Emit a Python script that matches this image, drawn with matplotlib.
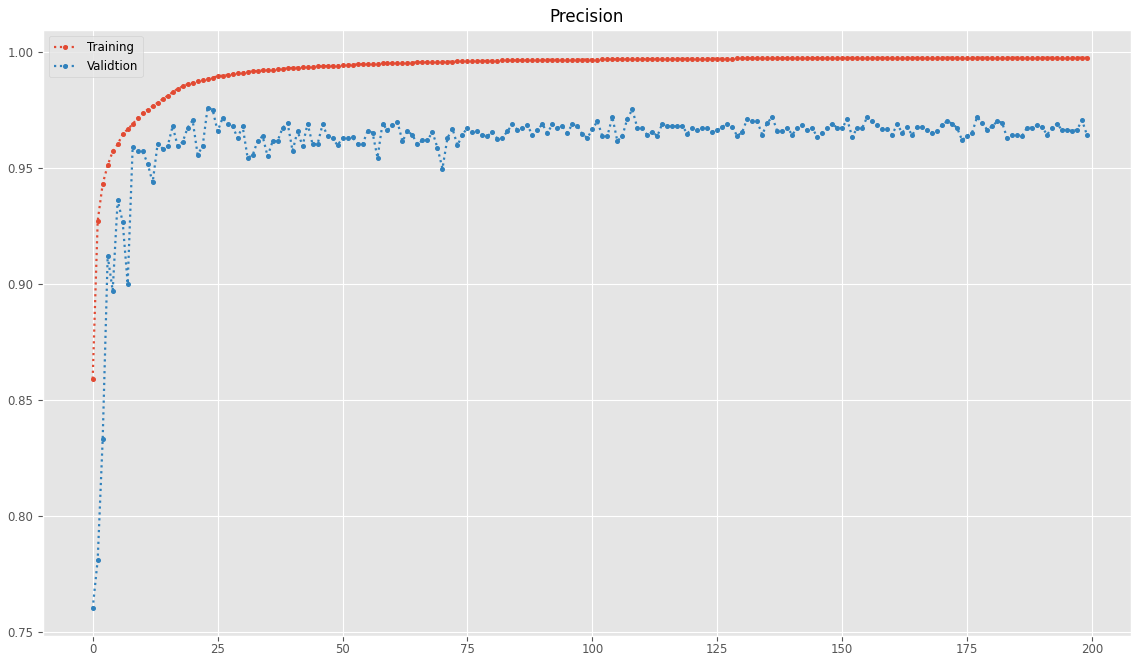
import matplotlib
matplotlib.use("Agg")
import matplotlib.pyplot as plt
import numpy as np

# values, one per epoch
train_precision = [
    0.8590, 0.9270, 0.9430, 0.9510, 0.9570, 0.9600, 0.9645, 0.9665, 0.9688, 0.9713,
    0.9735, 0.9750, 0.9765, 0.9780, 0.9795, 0.9810, 0.9825, 0.9840, 0.9850, 0.9860,
    0.9866, 0.9872, 0.9876, 0.9882, 0.9888, 0.9894, 0.9897, 0.9900, 0.9904, 0.9908,
    0.9910, 0.9913, 0.9915, 0.9917, 0.9919, 0.9920, 0.9922, 0.9924, 0.9926, 0.9928,
    0.9930, 0.9931, 0.9932, 0.9933, 0.9935, 0.9936, 0.9937, 0.9938, 0.9939, 0.9940,
    0.9942, 0.9943, 0.9944, 0.9945, 0.9946, 0.9946, 0.9947, 0.9948, 0.9949, 0.9950,
    0.9950, 0.9951, 0.9952, 0.9952, 0.9953, 0.9954, 0.9954, 0.9955, 0.9955, 0.9956,
    0.9956, 0.9957, 0.9957, 0.9958, 0.9958, 0.9959, 0.9959, 0.9960, 0.9960, 0.9960,
    0.9961, 0.9961, 0.9962, 0.9962, 0.9962, 0.9963, 0.9963, 0.9963, 0.9964, 0.9964,
    0.9964, 0.9965, 0.9965, 0.9965, 0.9965, 0.9966, 0.9966, 0.9966, 0.9966, 0.9966,
    0.9966, 0.9966, 0.9967, 0.9967, 0.9967, 0.9967, 0.9967, 0.9968, 0.9968, 0.9968,
    0.9968, 0.9968, 0.9968, 0.9969, 0.9969, 0.9969, 0.9969, 0.9969, 0.9969, 0.9969,
    0.9970, 0.9970, 0.9970, 0.9970, 0.9970, 0.9970, 0.9970, 0.9970, 0.9970, 0.9971,
    0.9971, 0.9971, 0.9971, 0.9971, 0.9971, 0.9971, 0.9971, 0.9971, 0.9971, 0.9972,
    0.9972, 0.9972, 0.9972, 0.9972, 0.9972, 0.9972, 0.9972, 0.9972, 0.9972, 0.9972,
    0.9973, 0.9973, 0.9973, 0.9973, 0.9973, 0.9973, 0.9973, 0.9973, 0.9973, 0.9973,
    0.9973, 0.9973, 0.9973, 0.9973, 0.9973, 0.9973, 0.9973, 0.9973, 0.9974, 0.9974,
    0.9974, 0.9974, 0.9974, 0.9974, 0.9974, 0.9974, 0.9974, 0.9974, 0.9974, 0.9974,
    0.9974, 0.9974, 0.9974, 0.9974, 0.9974, 0.9974, 0.9974, 0.9974, 0.9974, 0.9974,
    0.9974, 0.9974, 0.9974, 0.9974, 0.9974, 0.9974, 0.9974, 0.9974, 0.9974, 0.9974,
]

val_precision = [
    0.7600, 0.7810, 0.8330, 0.9120, 0.8970, 0.9360, 0.9266, 0.9000, 0.9590, 0.9570,
    0.9570, 0.9517, 0.9436, 0.9604, 0.9582, 0.9592, 0.9679, 0.9593, 0.9610, 0.9672,
    0.9704, 0.9556, 0.9592, 0.9759, 0.9750, 0.9657, 0.9714, 0.9687, 0.9678, 0.9628,
    0.9679, 0.9543, 0.9553, 0.9615, 0.9636, 0.9549, 0.9613, 0.9615, 0.9671, 0.9693,
    0.9572, 0.9658, 0.9592, 0.9690, 0.9601, 0.9601, 0.9686, 0.9636, 0.9628, 0.9596,
    0.9628, 0.9628, 0.9630, 0.9604, 0.9600, 0.9657, 0.9651, 0.9543, 0.9690, 0.9661,
    0.9683, 0.9697, 0.9613, 0.9658, 0.9640, 0.9600, 0.9618, 0.9618, 0.9654, 0.9585,
    0.9496, 0.9628, 0.9668, 0.9596, 0.9642, 0.9672, 0.9652, 0.9656, 0.9642, 0.9636,
    0.9654, 0.9625, 0.9628, 0.9657, 0.9687, 0.9664, 0.9672, 0.9683, 0.9640, 0.9664,
    0.9687, 0.9650, 0.9686, 0.9672, 0.9678, 0.9651, 0.9687, 0.9681, 0.9644, 0.9628,
    0.9665, 0.9700, 0.9636, 0.9636, 0.9718, 0.9615, 0.9636, 0.9711, 0.9751, 0.9671,
    0.9671, 0.9640, 0.9654, 0.9636, 0.9690, 0.9678, 0.9678, 0.9678, 0.9679, 0.9647,
    0.9671, 0.9661, 0.9671, 0.9672, 0.9654, 0.9661, 0.9675, 0.9690, 0.9675, 0.9636,
    0.9654, 0.9711, 0.9700, 0.9699, 0.9642, 0.9693, 0.9718, 0.9658, 0.9658, 0.9672,
    0.9642, 0.9670, 0.9683, 0.9661, 0.9671, 0.9632, 0.9651, 0.9671, 0.9690, 0.9671,
    0.9671, 0.9708, 0.9632, 0.9671, 0.9671, 0.9718, 0.9699, 0.9685, 0.9668, 0.9668,
    0.9642, 0.9687, 0.9651, 0.9675, 0.9640, 0.9675, 0.9675, 0.9661, 0.9651, 0.9657,
    0.9685, 0.9700, 0.9690, 0.9671, 0.9618, 0.9636, 0.9651, 0.9718, 0.9693, 0.9664,
    0.9678, 0.9699, 0.9694, 0.9628, 0.9640, 0.9640, 0.9637, 0.9672, 0.9672, 0.9683,
    0.9675, 0.9642, 0.9671, 0.9690, 0.9661, 0.9664, 0.9657, 0.9664, 0.9704, 0.9640,
]

epochs = np.arange(len(train_precision))

plt.style.use("ggplot")

fig = plt.figure(figsize=(11.31, 6.55), dpi=100)
ax = fig.add_axes([0.038, 0.029, 0.962, 0.925])

ax.plot(epochs, train_precision, linestyle=":", marker="o", markersize=2.6,
        linewidth=1.6, color="#E24A33", label="Training")
ax.plot(epochs, val_precision, linestyle=":", marker="o", markersize=2.6,
        linewidth=1.6, color="#3182BD", label="Validtion")

ax.set_title("Precision", fontsize=12)
ax.set_xlim(-9.95, 207.8)
ax.set_xticks([0, 25, 50, 75, 100, 125, 150, 175, 200])
ax.set_yticks([0.75, 0.80, 0.85, 0.90, 0.95, 1.00])
ax.tick_params(labelsize=8.5)
ax.tick_params(axis="x", pad=1.5)

ax.legend(loc="upper left", fontsize=8.5)

fig.savefig("out.png", dpi=100)
